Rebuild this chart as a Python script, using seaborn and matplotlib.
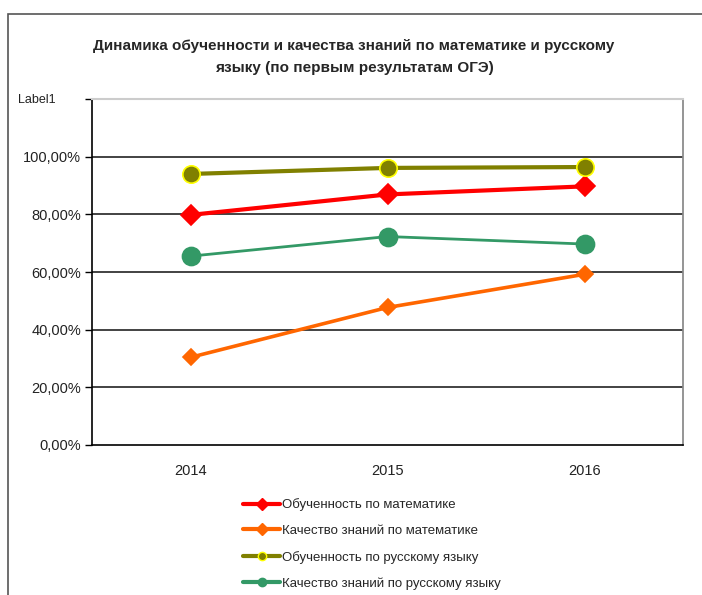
import pandas as pd
import numpy as np
import matplotlib.pyplot as plt
import seaborn as sns
from matplotlib.lines import Line2D
from matplotlib.patches import Rectangle

sns.set_theme(style="white")
plt.rcParams['font.family'] = ['Liberation Sans', 'DejaVu Sans']

years = ['2014', '2015', '2016']
series_names = ['Обученность по математике',
                'Качество знаний по математике',
                'Обученность по русскому языку',
                'Качество знаний по русскому языку']
obuch_math = [79.8, 86.9, 89.7]
kach_math = [30.4, 47.7, 59.2]
obuch_rus = [94.0, 96.1, 96.4]
kach_rus = [65.5, 72.3, 69.7]
y_ticks = [0, 20, 40, 60, 80, 100, 120]
y_labels = ['0,00%', '20,00%', '40,00%', '60,00%', '80,00%', '100,00%', '']
top_label = 'Label1'

df = pd.DataFrame({
    'Год': years * 4,
    'Серия': np.repeat(series_names, 3),
    'Значение': obuch_math + kach_math + obuch_rus + kach_rus,
})

# стиль каждой серии: цвет, маркер, размер маркера, кромка, толщина линии
styles = {
    series_names[0]: dict(color='#FF0000', marker='D', ms=10.5, mec='#FF0000', lw=3),
    series_names[1]: dict(color='#FF6600', marker='D', ms=8.5, mec='#FF6600', lw=2.6),
    series_names[2]: dict(color='#808000', marker='o', ms=12.5, mec='#FFFF00', lw=3),
    series_names[3]: dict(color='#339966', marker='o', ms=13, mec='#339966', lw=2),
}

fig = plt.figure(figsize=(7.02, 5.95), dpi=100)
ax = fig.add_axes([92 / 702, 1 - 445 / 595, 591 / 702, 346 / 595])

# рамка области диаграммы
fig.patches.append(Rectangle((8 / 702, -0.1), 1.2, 1 - 14 / 595 + 0.1,
                             transform=fig.transFigure, fill=False,
                             edgecolor='#555555', lw=1.2))

for name in series_names:
    st = styles[name]
    sns.lineplot(data=df[df['Серия'] == name], x='Год', y='Значение',
                 color=st['color'], marker=st['marker'], markersize=st['ms'],
                 markeredgecolor=st['mec'], markeredgewidth=1.2,
                 linewidth=st['lw'], ax=ax, legend=False, zorder=3)

ax.set_xlim(-0.5, 2.5)
ax.set_ylim(0, 120)
ax.set_yticks(y_ticks)
ax.set_yticklabels(y_labels)
ax.set_xlabel('')
ax.set_ylabel('')
ax.set_xticks([0, 1, 2])
ax.set_xticks([-0.5, 0.5, 1.5, 2.5], minor=True)
ax.tick_params(axis='x', which='major', length=0, pad=14, labelsize=10.5, labelcolor='#222222')
ax.tick_params(axis='x', which='minor', length=5, width=1, color='black', direction='out')
ax.tick_params(axis='y', length=5, width=1, color='black', direction='out',
               left=True, pad=3, labelsize=10.5, labelcolor='#222222')
fig.text(18 / 702, 1 - 100 / 595, top_label, ha='left', va='center',
         fontsize=9, color='#222222')

for v in [20, 40, 60, 80, 100]:
    ax.axhline(v, color='#222222', lw=1.2, zorder=1)
ax.spines['left'].set_color('black')
ax.spines['bottom'].set_color('black')
ax.spines['left'].set_linewidth(1.2)
ax.spines['bottom'].set_linewidth(1.2)
ax.spines['right'].set_color('#888888')
ax.spines['top'].set_color('#cccccc')
ax.spines['top'].set_linewidth(1.5)

fig.text(354 / 702, 1 - 57 / 595,
         'Динамика обученности и качества знаний по математике и русскому\nязыку (по первым результатам ОГЭ)',
         ha='center', va='center', fontsize=11, fontweight='bold', linespacing=1.7)

handles = []
for name in series_names:
    st = styles[name]
    handles.append(Line2D([], [], color=st['color'], marker=st['marker'],
                          markersize=6, markeredgecolor=st['mec'],
                          markerfacecolor=st['color'], lw=3))
fig.legend(handles, series_names, loc='upper left',
           bbox_to_anchor=(238 / 702, 1 - 493 / 595), frameon=False,
           fontsize=9.5, handlelength=2.8, handletextpad=0.15,
           labelspacing=1.03, borderaxespad=0)

plt.savefig('out.png', dpi=100)
